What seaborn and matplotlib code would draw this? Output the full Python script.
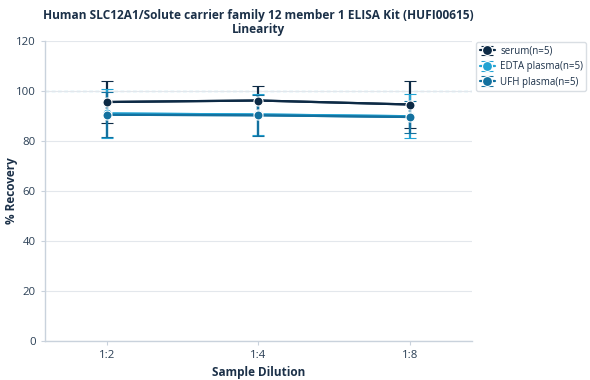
import numpy as np
import pandas as pd
import seaborn as sns
import matplotlib
matplotlib.use('Agg')
import matplotlib.pyplot as plt

dilutions = ['1:2', '1:4', '1:8']
series = ['serum(n=5)', 'EDTA plasma(n=5)', 'UFH plasma(n=5)']
serum_mean = [95.6, 96.2, 94.6]
serum_sd = [8.4, 5.8, 9.6]
edta_mean = [91.0, 90.6, 89.9]
edta_sd = [10.0, 8.4, 8.8]
ufh_mean = [90.5, 90.3, 89.6]
ufh_sd = [9.0, 8.2, 6.4]
colors = ['#0d2a45', '#22a3d3', '#13719f']

sns.set_style('white')
plt.rcParams['font.family'] = ['Open Sans', 'DejaVu Sans']

means = [serum_mean, edta_mean, ufh_mean]
sds = [serum_sd, edta_sd, ufh_sd]

fig = plt.figure(figsize=(5.9, 3.8), dpi=100)
ax = fig.add_axes([0.076, 0.103, 0.724, 0.789])

x = np.arange(len(dilutions))
for name, m, s, c in zip(series, means, sds, colors):
    df = pd.DataFrame({'x': x, 'y': m})
    sns.lineplot(data=df, x='x', y='y', ax=ax, color=c, lw=1.6, legend=False)
    ax.errorbar(x, m, yerr=s, fmt='-o', color=c, ecolor=c, elinewidth=1.6,
                capsize=4, capthick=1.6, lw=1.6, ms=6.5, mec='white', mew=0.8,
                label=name)

ax.axhline(100, color='#86c9e2', lw=0.9, ls=(0, (3, 2)), zorder=0)
ax.set_xticks(x)
ax.set_xticklabels(dilutions)
ax.set_xlim(-0.41, 2.41)
ax.set_ylim(0, 120)
ax.set_yticks(range(0, 121, 20))
ax.yaxis.grid(True, color='#e3e7ec', lw=0.8)
ax.set_axisbelow(True)
sns.despine(ax=ax)
for sp in ['left', 'bottom']:
    ax.spines[sp].set_color('#c9d2dc')
    ax.spines[sp].set_linewidth(1.0)
ax.tick_params(axis='both', colors='#c9d2dc', labelcolor='#2a3f55', labelsize=8.2,
               length=3, width=0.8, left=True, bottom=True)

ax.set_xlabel('Sample Dilution', fontsize=8.5, fontweight='bold', color='#1b3048')
ax.set_ylabel('% Recovery', fontsize=8.5, fontweight='bold', color='#1b3048')
ax.yaxis.set_label_coords(-0.064, 0.5)
ax.set_title('Human SLC12A1/Solute carrier family 12 member 1 ELISA Kit (HUFI00615)\nLinearity',
             fontsize=8.6, fontweight='bold', color='#1b3048', linespacing=1.1, pad=6)

leg = ax.legend(loc='upper left', bbox_to_anchor=(1.003, 1.005), fontsize=7.0,
                frameon=True, handlelength=1.6, borderpad=0.35, labelspacing=0.45,
                handletextpad=0.5, borderaxespad=0.3, fancybox=True, markerscale=1.1)
leg.get_frame().set_edgecolor('#d0d6dd')
for t in leg.get_texts():
    t.set_color('#1b3048')

plt.savefig('out.png', dpi=100)
